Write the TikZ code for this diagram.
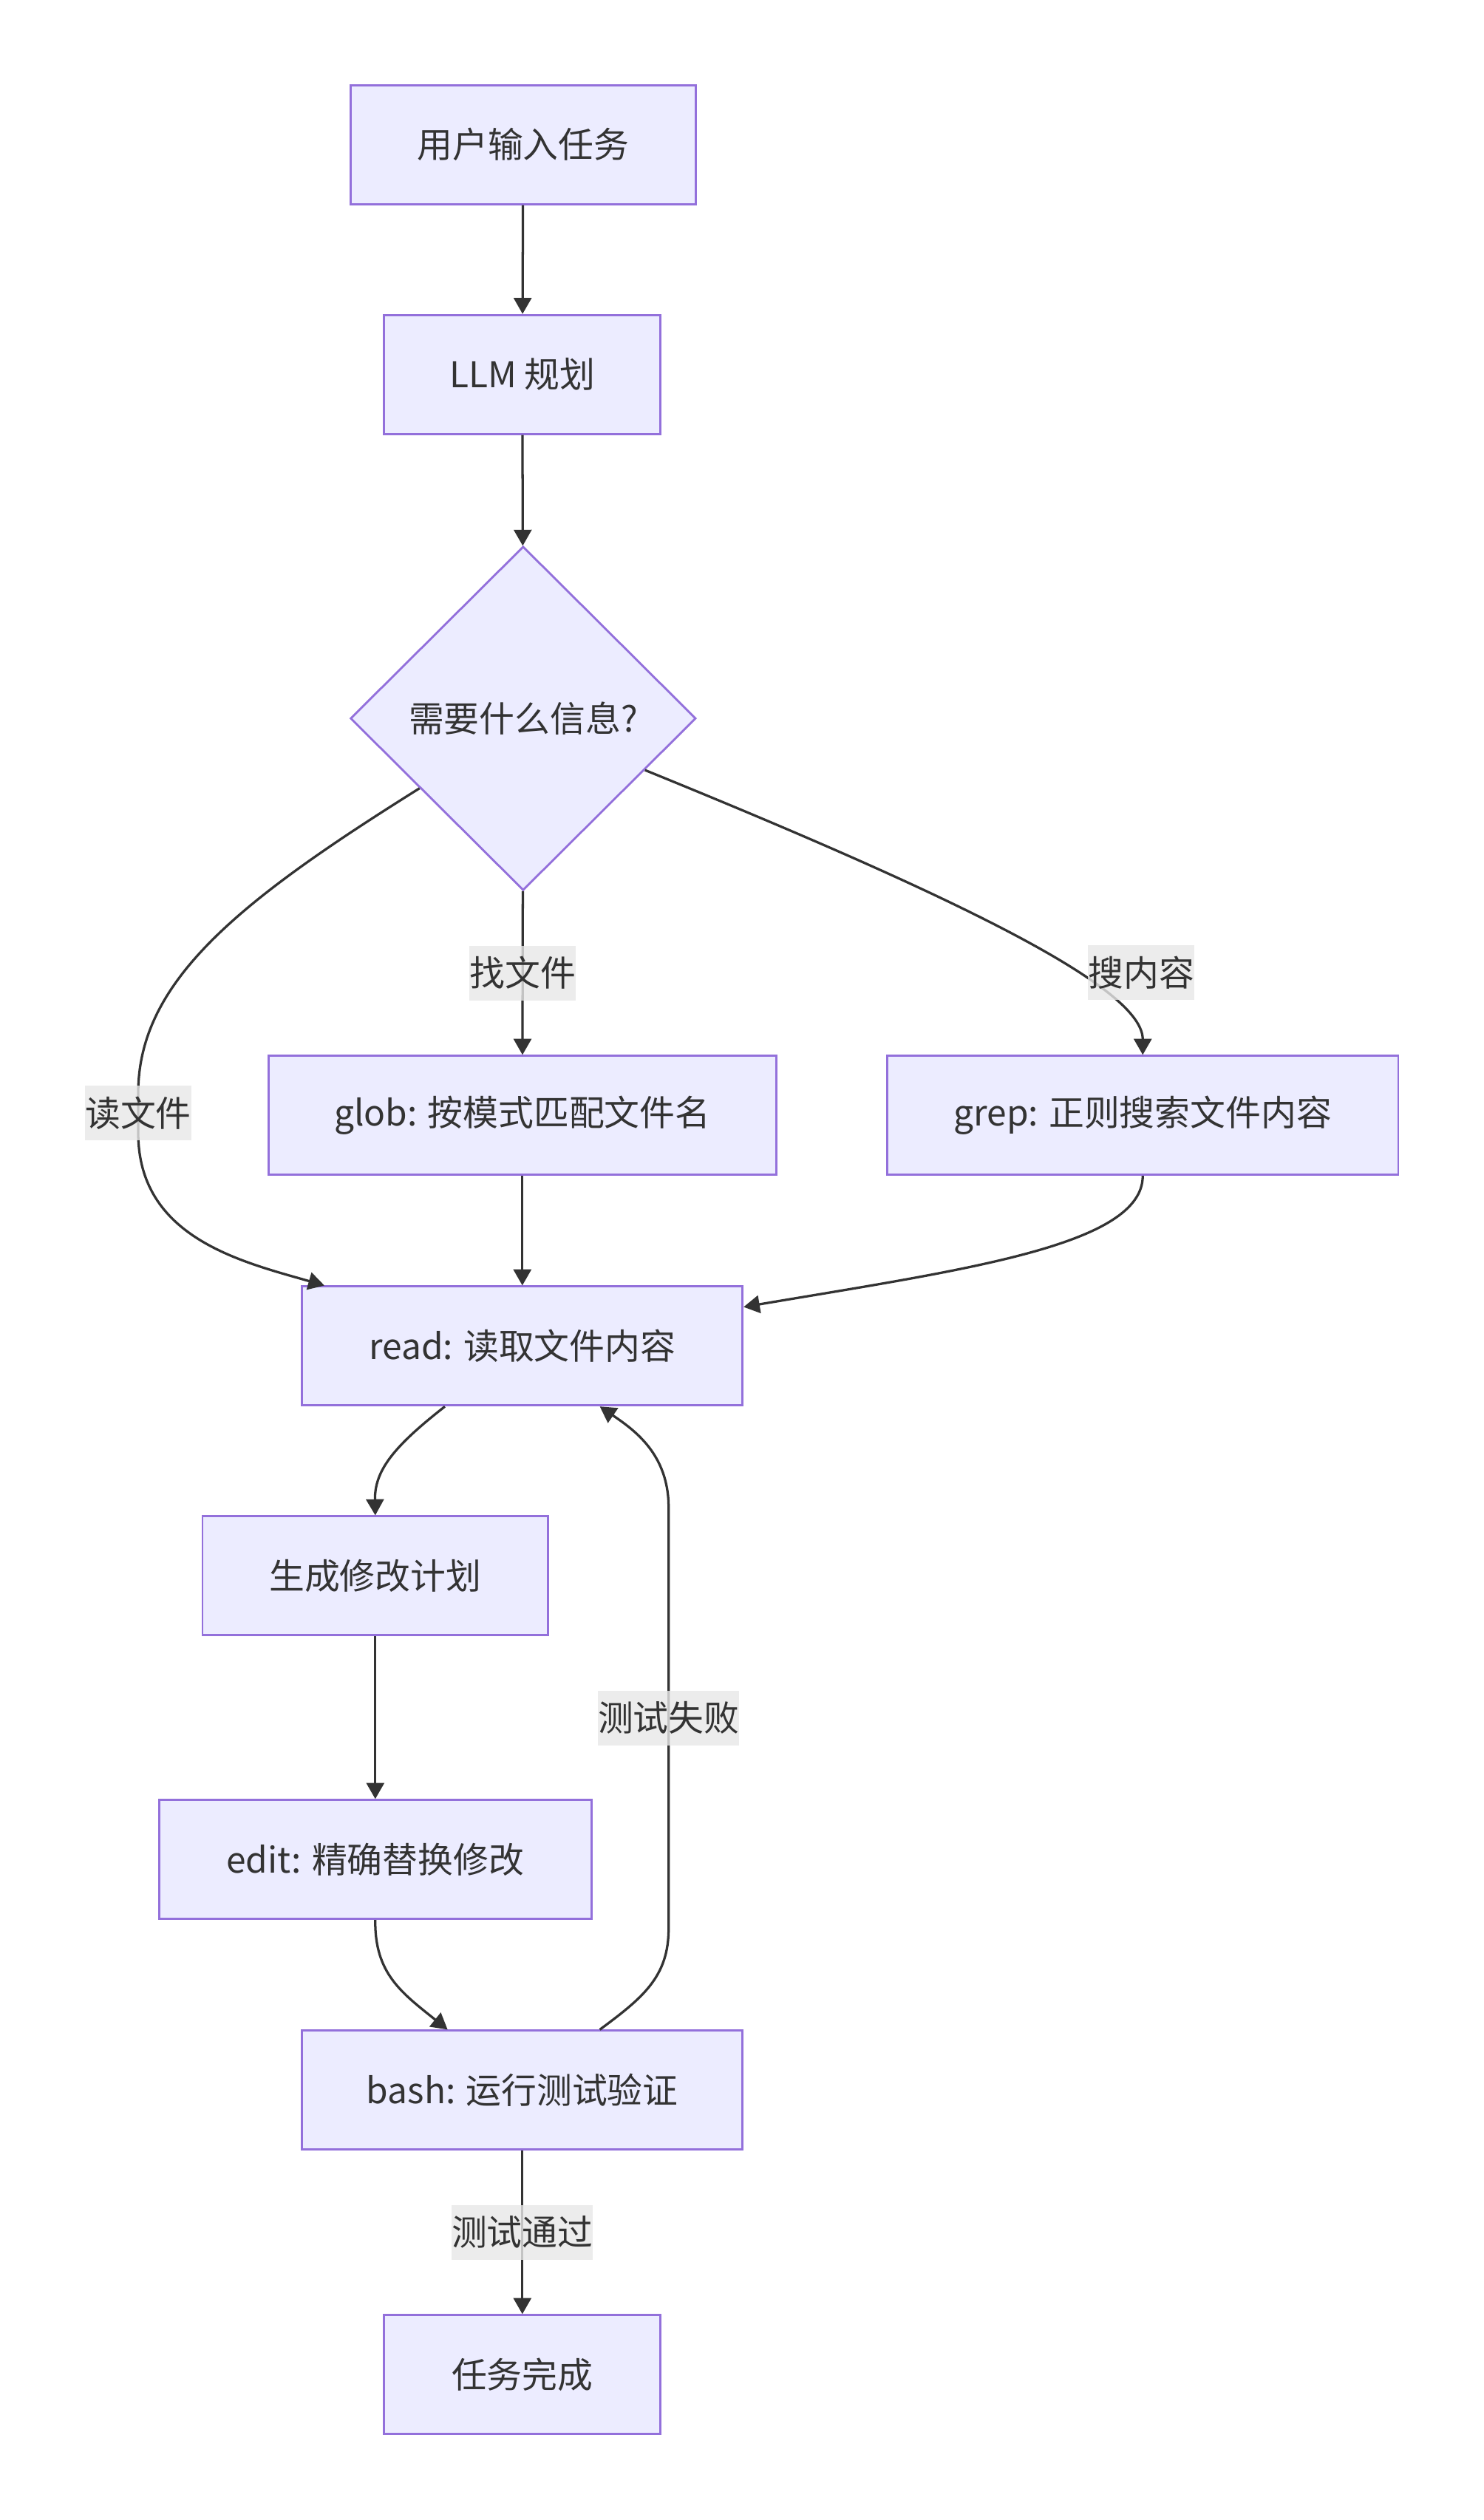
\documentclass[tikz,border=0pt]{standalone}
\usepackage{fontspec}
\setmainfont{Noto Sans CJK SC}
\usepackage{xcolor}
\definecolor{boxfill}{HTML}{ECECFF}
\definecolor{boxline}{HTML}{9370DB}
\definecolor{edgeline}{HTML}{333333}
\definecolor{lblfill}{HTML}{E8E8E8}
\usepackage{tikz}
\usetikzlibrary{arrows.meta,shapes.geometric}

\begin{document}
\begin{tikzpicture}[x=1pt,y=-1pt,
	every node/.style={text=edgeline,font=\fontsize{22}{26}\selectfont},
	stepbox/.style={draw=boxline,fill=boxfill,line width=1.3pt,inner sep=0pt,minimum height=74pt},
	askbox/.style={diamond,draw=boxline,fill=boxfill,line width=1.3pt,inner sep=0pt,minimum width=215pt,minimum height=214pt},
	flow/.style={draw=edgeline,line width=1.5pt,-{Triangle[width=11pt,length=10pt]}},
	tag/.style={fill=lblfill,fill opacity=0.8,text opacity=1,inner xsep=0pt,inner ysep=0pt,minimum height=34pt}]
	% page
	\fill[white] (0,0) rectangle (923,1568);
	\useasboundingbox (0,0) rectangle (923,1568);
	
	% draw nodes
	\node[stepbox,minimum width=215pt] (input) at (325.5,90) {用户输入任务};
	\node[stepbox,minimum width=172pt] (plan) at (325,233) {LLM 规划};
	\node[askbox] (ask) at (325.5,447) {需要什么信息?};
	\node[stepbox,minimum width=316pt] (glob) at (325,694) {glob: 按模式匹配文件名};
	\node[stepbox,minimum width=318pt] (grep) at (711,694) {grep: 正则搜索文件内容};
	\node[stepbox,minimum width=274pt] (read) at (325,837.5) {read: 读取文件内容};
	\node[stepbox,minimum width=215pt] (gen) at (233.5,980.5) {生成修改计划};
	\node[stepbox,minimum width=269pt] (edit) at (233.5,1157) {edit: 精确替换修改};
	\node[stepbox,minimum width=274pt] (bash) at (325,1300.5) {bash: 运行测试验证};
	\node[stepbox,minimum width=172pt] (done) at (325,1477.5) {任务完成};
	
	%%%edges
	\draw[flow] (input) -- (plan);
	\draw[flow] (plan) -- (ask);
	\draw[flow] (ask) -- node[tag] {找文件} (glob);
	\draw[flow] (ask.214) .. controls (150,560) and (86,610) .. (86,680) -- node[tag] {读文件} (86,705)
		.. controls (86,770) and (150,785) .. (read.163);
	\draw[flow] (ask.337) .. controls (600,560) and (711,615) .. (grep.north);
	\node[tag] (searchtag) at (710,605) {搜内容};
	\draw[flow] (glob) -- (read);
	\draw[flow] (grep.south) .. controls (711,775) and (600,790) .. (read.10);
	\draw[flow] (read.218) .. controls (245,900) and (233,915) .. (gen.north);
	\draw[flow] (gen) -- (edit);
	\draw[flow] (edit.south) .. controls (233,1228) and (250,1240) .. (bash.141);
	\draw[flow] (bash.38) .. controls (400,1243) and (416,1230) .. (416,1200) -- node[tag] {测试失败} (416,938)
		.. controls (416,905) and (395,890) .. (read.322);
	\draw[flow] (bash) -- node[tag] {测试通过} (done);
	
\end{tikzpicture}
\end{document}
